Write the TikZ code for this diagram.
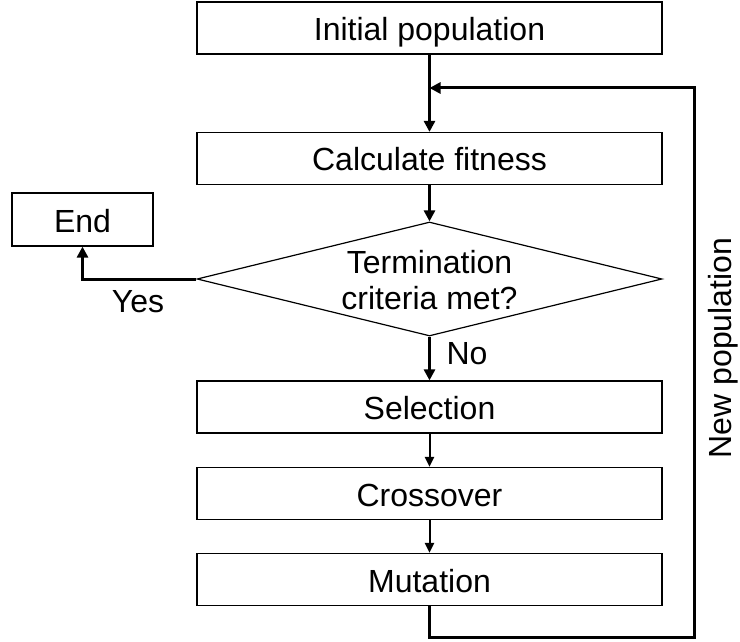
\documentclass[tikz,border=0pt]{standalone}
\usepackage{fontspec}
\setmainfont{Liberation Sans}
\usetikzlibrary{arrows.meta,shapes.geometric}
\begin{document}
\begin{tikzpicture}[x=1pt,y=-1pt,
  box/.style={draw, line width=1.2pt, minimum width=465pt, minimum height=52pt, inner sep=0pt, text height=25pt, text depth=0pt, font=\fontsize{32}{36}\selectfont},
  endbox/.style={draw, line width=1.2pt, minimum width=141pt, minimum height=53pt, inner sep=0pt, text height=25pt, text depth=0pt, font=\fontsize{32}{36}\selectfont},
  dia/.style={draw, diamond, line width=1.2pt, minimum width=465pt, minimum height=114pt, inner sep=0pt},
  lbl/.style={font=\fontsize{32}{36}\selectfont, inner sep=0pt},
  thick conn/.style={line width=3pt, -{Triangle[length=11pt,width=11pt]}},
  thin conn/.style={line width=2pt, -{Triangle[length=10pt,width=9pt]}},
  fb/.style={line width=3pt, line join=miter}
]
\useasboundingbox (0,0) rectangle (740,642);
\node[box] (ip) at (429.5,28) {Initial population};
\node[box] (cf) at (429.5,158.5) {Calculate fitness};
\node[dia] (tc) at (429.5,279) {};
\node[lbl, align=center] (tct) at (429.5,280) {Termination\\criteria met?};
\node[endbox] (end) at (82.5,219.5) {End};
\node[box] (sel) at (429.5,407) {Selection};
\node[box] (cro) at (429.5,493.5) {Crossover};
\node[box] (mut) at (429.5,579.5) {Mutation};
\coordinate (fbin) at (429.5,88);
\coordinate (c1) at (429.5,637);
\coordinate (c2) at (694,637);
\coordinate (c3) at (694,88);
\coordinate (yc) at (end.south |- tc.west);

\draw[thick conn] (ip.south) -- (cf.north);
\draw[thick conn] (cf.south) -- (tc.north);
\draw[thick conn] (tc.south) -- (sel.north);
\draw[thick conn, line join=miter] (tc.west) -- (yc) -- (end.south);
\draw[thin conn] (sel.south) -- (cro.north);
\draw[thin conn] (cro.south) -- (mut.north);
\draw[fb, -{Triangle[length=11pt,width=11pt]}] (mut.south) -- (c1) -- (c2) -- (c3) -- (fbin);

\node[lbl] (yes) at (138,302) {Yes};
\node[lbl] (no) at (467,354) {No};
\node[lbl, rotate=90] (np) at (723,348) {New population};
\end{tikzpicture}
\end{document}
